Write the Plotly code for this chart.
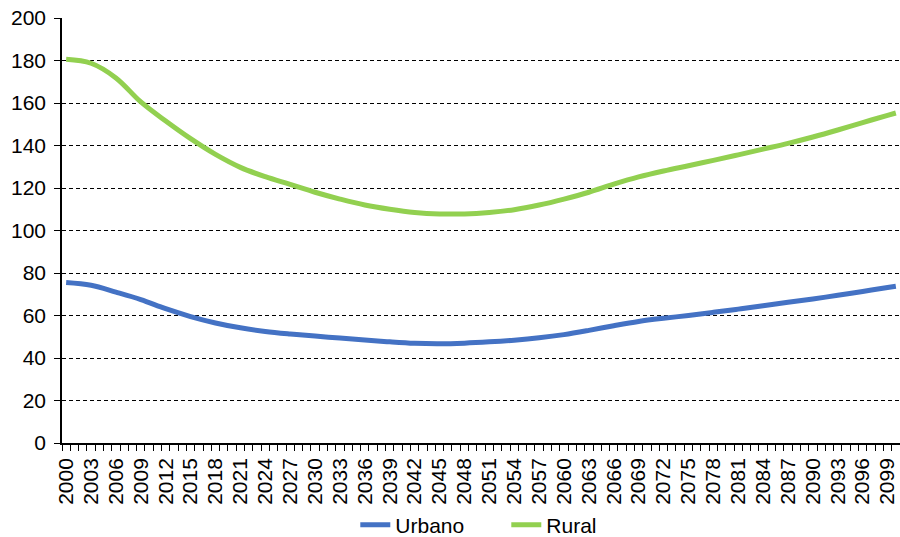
import plotly.graph_objects as go

years = list(range(2000, 2100, 3)) + [2100]
urbano = [75.5, 74.2, 71.0, 67.5, 63.2, 59.5, 56.5, 54.2, 52.5, 51.3, 50.3, 49.4, 48.5, 47.6, 46.9, 46.7, 47.0,
          47.6, 48.4, 49.5, 51.0, 53.0, 55.2, 57.2, 58.7, 60.0, 61.5, 63.0, 64.6, 66.2, 67.8, 69.5, 71.3, 73.2, 73.8]
rural = [180.6, 178.7, 171.8, 160.5, 151.5, 143.2, 135.8, 129.7, 125.3, 121.7, 118.0, 114.8, 112.0, 110.0, 108.5,
         107.8, 107.8, 108.5, 109.8, 112.0, 114.8, 118.0, 121.8, 125.2, 128.0, 130.5, 133.0, 135.6, 138.3, 141.0,
         144.0, 147.3, 150.8, 154.2, 155.3]
tick_years = list(range(2000, 2100, 3))
y_ticks = list(range(0, 201, 20))

FONT = "Liberation Sans, Arial, sans-serif"

fig = go.Figure()
fig.add_trace(go.Scatter(x=years, y=urbano, name="Urbano", mode="lines",
                         line=dict(color="#4472C4", width=5, shape="spline", smoothing=1.0)))
fig.add_trace(go.Scatter(x=years, y=rural, name="Rural", mode="lines",
                         line=dict(color="#92D050", width=5, shape="spline", smoothing=1.0)))

fig.update_layout(
    width=900, height=537,
    margin=dict(l=62, r=0, t=18, b=94),
    paper_bgcolor="white", plot_bgcolor="white",
    font=dict(family=FONT, size=21, color="black"),
    showlegend=True,
    legend=dict(orientation="h", x=0.35, xanchor="left", xref="paper",
                y=0.022, yanchor="middle", yref="container",
                font=dict(size=21), entrywidth=106, entrywidthmode="pixels", tracegroupgap=0),
)
fig.update_xaxes(
    range=[1999.5, 2100.5], automargin=False,
    tickmode="array", tickvals=tick_years, ticktext=[str(t) for t in tick_years],
    tickangle=-90, ticks="", showgrid=False, zeroline=False,
    showline=True, linecolor="black", linewidth=1.5,
    tickfont=dict(size=21), ticklabelstandoff=5,
    minor=dict(tickmode="linear", tick0=1999.5, dtick=1, ticks="outside", ticklen=6,
               tickcolor="black", tickwidth=1, showgrid=False),
)
fig.update_yaxes(
    range=[0, 200], automargin=False, tickmode="array", tickvals=y_ticks,
    ticks="outside", ticklen=6, tickcolor="black", tickwidth=1,
    showline=True, linecolor="black", linewidth=1.5,
    showgrid=True, gridcolor="black", gridwidth=1, griddash="4px,3px",
    zeroline=False, tickfont=dict(size=21), ticklabelstandoff=4,
)

fig.write_html("out.html", config={"displayModeBar": False},
               post_script="document.body.style.margin='0';document.body.style.overflow='hidden';")
